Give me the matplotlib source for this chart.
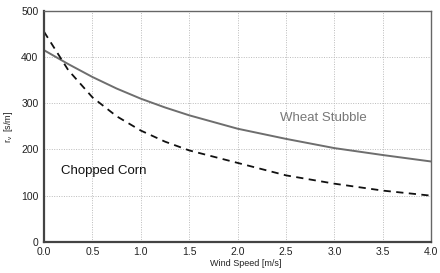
import numpy as np
import matplotlib.pyplot as plt

plt.rcParams['font.family'] = ['Liberation Sans', 'DejaVu Sans']

wind = [0.0, 0.25, 0.5, 0.75, 1.0, 1.25, 1.5, 2.0, 2.5, 3.0, 3.5, 4.0]
wheat = [415, 385, 357, 332, 310, 291, 274, 245, 223, 203, 188, 174]
corn = [455, 372, 313, 272, 241, 217, 198, 171, 144, 126, 111, 100]

xticks = [0.0, 0.5, 1.0, 1.5, 2.0, 2.5, 3.0, 3.5, 4.0]
yticks = [0, 100, 200, 300, 400, 500]

fig = plt.figure(figsize=(4.4, 2.73), dpi=100)
ax = fig.add_axes([0.1, 0.114, 0.88, 0.846])

ax.plot(wind, wheat, color='#6e6e6e', lw=1.4)
ax.plot(wind, corn, color='#111111', lw=1.3, ls=(0, (4, 3)))

ax.set_xlim(0, 4)
ax.set_ylim(0, 500)
ax.set_xticks(xticks)
ax.set_xticklabels([f"{t:.1f}" for t in xticks])
ax.set_yticks(yticks)
ax.grid(True, ls=(0, (1, 1.5)), color='#bbbbbb', lw=0.7)
ax.tick_params(length=0, labelsize=7.5, colors='#222222', pad=4)

for s in ['left', 'bottom']:
    ax.spines[s].set_color('#444444')
    ax.spines[s].set_linewidth(1.6)
for s in ['top', 'right']:
    ax.spines[s].set_color('#666666')
    ax.spines[s].set_linewidth(1.0)

ax.set_xlabel('Wind Speed [m/s]', fontsize=6.5, color='#222222', labelpad=1, x=0.52)
ax.set_ylabel(r'r$_\mathregular{v}$  [s/m]', fontsize=6.5, color='#222222')
ax.yaxis.set_label_coords(-0.075, 0.5)

ax.text(2.44, 268, 'Wheat Stubble', color='#777777', fontsize=9.5, va='center')
ax.text(0.18, 154, 'Chopped Corn', color='#111111', fontsize=9.5, va='center')

fig.savefig('out.png', dpi=100)
